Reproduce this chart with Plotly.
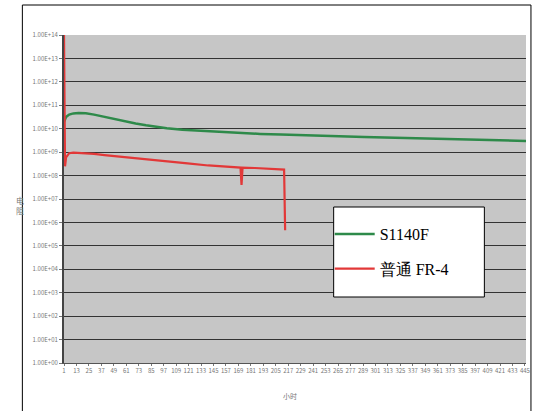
import plotly.graph_objects as go

# ---- data ----
green_name = "S1140F"
green_x = [1, 3, 6, 10, 15, 22, 30, 40, 50, 60, 70, 80, 90, 100, 115, 130, 150, 170, 190,
           210, 230, 250, 270, 290, 310, 330, 350, 370, 390, 410, 430, 446]
green_y = [2.0e10, 3.2e10, 4.0e10, 4.5e10, 4.7e10, 4.6e10, 4.0e10, 3.2e10, 2.5e10, 2.0e10,
           1.66e10, 1.4e10, 1.2e10, 1.05e10, 9.1e9, 8.3e9, 7.4e9, 6.6e9, 6.0e9,
           5.6e9, 5.2e9, 4.9e9, 4.6e9, 4.4e9, 4.2e9, 4.0e9, 3.8e9, 3.6e9, 3.5e9, 3.3e9, 3.2e9, 3.0e9]

red_name = "普通 FR-4"
red_x = [1, 2, 3, 6, 10, 20, 30, 40, 60, 80, 100, 120, 140, 160, 171, 172, 173, 185, 200, 213, 214]
red_y = [1.0e14, 2.5e8, 6.0e8, 9.0e8, 9.5e8, 9.0e8, 8.5e8, 7.5e8, 6.0e8, 5.0e8, 4.0e8,
         3.3e8, 2.7e8, 2.3e8, 2.2e8, 4.0e7, 2.2e8, 2.1e8, 1.9e8, 1.8e8, 4.6e5]

x_tick_vals = [1, 13, 25, 37, 49, 61, 73, 85, 97, 109, 121, 133, 145, 157, 169, 181, 193, 205,
               217, 229, 241, 253, 265, 277, 289, 301, 313, 325, 337, 349, 361, 373, 385, 397,
               409, 421, 433, 445]
x_tick_labels = [str(v) for v in x_tick_vals]

y_tick_vals = [1e0, 1e1, 1e2, 1e3, 1e4, 1e5, 1e6, 1e7, 1e8, 1e9, 1e10, 1e11, 1e12, 1e13, 1e14]
y_tick_labels = ["1.00E+00", "1.00E+01", "1.00E+02", "1.00E+03", "1.00E+04", "1.00E+05",
                 "1.00E+06", "1.00E+07", "1.00E+08", "1.00E+09", "1.00E+10", "1.00E+11",
                 "1.00E+12", "1.00E+13", "1.00E+14"]

x_title = "小时"
y_title = "电<br>阻"

fig = go.Figure()
fig.add_trace(go.Scatter(x=green_x, y=green_y, mode="lines", name=green_name, legendgroup="g",
                         line=dict(color="#2e8a4a", width=2.5)))
fig.add_trace(go.Scatter(x=red_x, y=red_y, mode="lines", name=red_name, legendgroup="r",
                         line=dict(color="#e23838", width=2.2)))

W, H = 539, 411
L, R, T, B = 64, 9, 35, 48
pw = W - L - R
ph = H - T - B

def px_x(p):
    return (p - L) / pw

def px_y(p):
    return (H - B - p) / ph

fig.update_layout(
    width=W, height=H,
    margin=dict(l=L, r=R, t=T, b=B),
    paper_bgcolor="white",
    plot_bgcolor="#c6c6c6",
    showlegend=True,
    legend=dict(x=px_x(332), y=px_y(217), xanchor="left", yanchor="top",
                bgcolor="rgba(0,0,0,0)", borderwidth=0,
                font=dict(family="Liberation Serif", size=16, color="black"),
                tracegroupgap=11, itemwidth=40),
    font=dict(family="Noto Sans CJK SC", size=6, color="#666666"),
)

fig.update_xaxes(
    range=[1, 446], tickmode="array", tickvals=x_tick_vals, ticktext=x_tick_labels,
    showgrid=False, zeroline=False, showline=True, linecolor="#555555", linewidth=1,
    ticks="outside", ticklen=2, tickcolor="#777777",
    tickfont=dict(size=6, color="#777777"),
    title=None,
)
fig.update_yaxes(
    type="log", range=[0, 14], tickmode="array", tickvals=y_tick_vals, ticktext=y_tick_labels,
    showgrid=True, gridcolor="#333333", gridwidth=1.2, zeroline=False,
    showline=True, linecolor="#444444", linewidth=2,
    ticks="outside", ticklen=3, tickcolor="#777777",
    tickfont=dict(size=6, color="#777777"),
)

# y-axis title as stacked characters
fig.add_annotation(xref="paper", yref="paper", x=px_x(14), y=px_y(205), text=y_title,
                   showarrow=False, font=dict(size=8, color="#777777"), align="center")
# x-axis title near the bottom edge
fig.add_annotation(xref="paper", yref="paper", x=px_x(292), y=px_y(403), text=x_title,
                   showarrow=False, font=dict(size=7, color="#777777"))

shapes = [
    # outer frame
    dict(type="rect", xref="paper", yref="paper", x0=px_x(22), x1=px_x(535),
         y0=px_y(412), y1=px_y(5), line=dict(color="black", width=1), layer="below"),
    # legend box
    dict(type="rect", xref="paper", yref="paper", x0=px_x(336), x1=px_x(488),
         y0=px_y(297), y1=px_y(207), fillcolor="white", line=dict(color="black", width=1),
         layer="above"),
]
fig.update_layout(shapes=shapes)

fig.write_html("out.html", config={"displayModeBar": False},
               post_script="document.body.style.margin='0px';")
